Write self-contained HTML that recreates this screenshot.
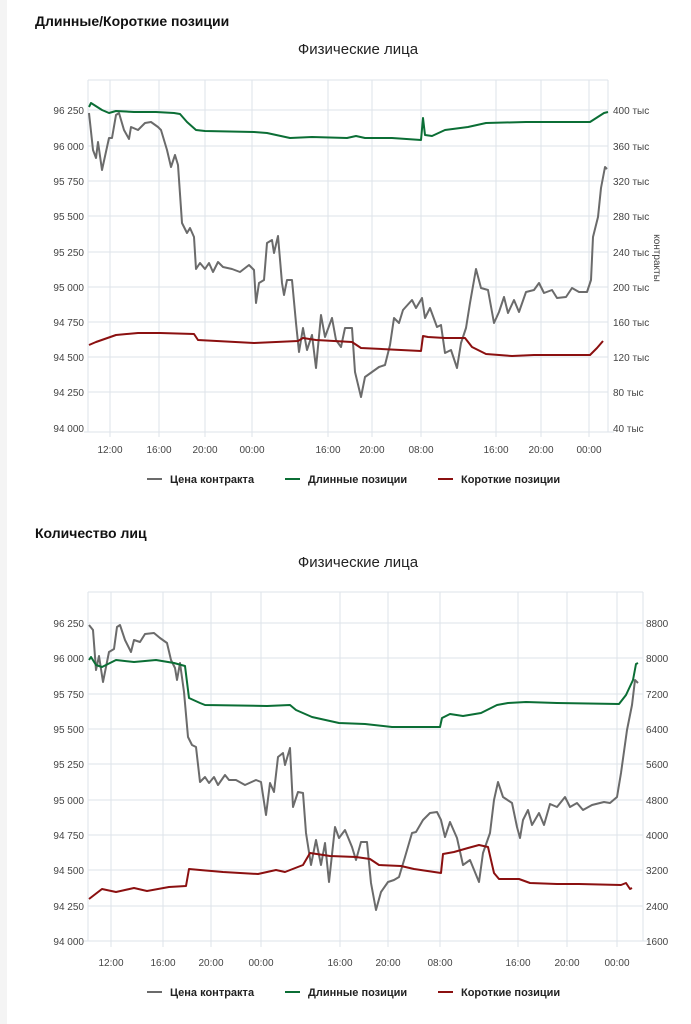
<!DOCTYPE html><html><head><meta charset="utf-8"><style>
body{margin:0;background:#fff;width:691px;height:1024px;overflow:hidden}
svg{display:block}
text{font-family:"Liberation Sans","DejaVu Sans",sans-serif}
</style></head><body>
<svg width="691" height="1024" viewBox="0 0 691 1024">
<rect x="0" y="0" width="7" height="1024" fill="#f4f4f4"/>
<text x="35" y="26" font-size="14" font-weight="bold" fill="#111">Длинные/Короткие позиции</text>
<text x="358" y="54" font-size="15" text-anchor="middle" fill="#222">Физические лица</text>
<g stroke="#dde3ea" stroke-width="1">
<line x1="88" y1="80" x2="608" y2="80"/>
<line x1="88" y1="110" x2="608" y2="110"/><line x1="88" y1="146" x2="608" y2="146"/><line x1="88" y1="181" x2="608" y2="181"/><line x1="88" y1="216" x2="608" y2="216"/><line x1="88" y1="252" x2="608" y2="252"/><line x1="88" y1="287" x2="608" y2="287"/><line x1="88" y1="322" x2="608" y2="322"/><line x1="88" y1="357" x2="608" y2="357"/><line x1="88" y1="392" x2="608" y2="392"/>
<line x1="110" y1="80" x2="110" y2="437"/><line x1="159" y1="80" x2="159" y2="437"/><line x1="205" y1="80" x2="205" y2="437"/><line x1="252" y1="80" x2="252" y2="437"/><line x1="328" y1="80" x2="328" y2="437"/><line x1="372" y1="80" x2="372" y2="437"/><line x1="421" y1="80" x2="421" y2="437"/><line x1="496" y1="80" x2="496" y2="437"/><line x1="541" y1="80" x2="541" y2="437"/><line x1="589" y1="80" x2="589" y2="437"/>
<line x1="88" y1="80" x2="88" y2="432"/><line x1="608" y1="80" x2="608" y2="432"/>
<line x1="84" y1="432" x2="614" y2="432"/>
</g>
<g font-size="10" fill="#444" text-anchor="end">
<text x="84" y="114">96 250</text><text x="84" y="150">96 000</text><text x="84" y="185">95 750</text><text x="84" y="220">95 500</text><text x="84" y="256">95 250</text><text x="84" y="291">95 000</text><text x="84" y="326">94 750</text><text x="84" y="361">94 500</text><text x="84" y="396">94 250</text><text x="84" y="432">94 000</text>
</g>
<g font-size="10" fill="#444">
<text x="613" y="114">400 тыс</text><text x="613" y="150">360 тыс</text><text x="613" y="185">320 тыс</text><text x="613" y="220">280 тыс</text><text x="613" y="256">240 тыс</text><text x="613" y="291">200 тыс</text><text x="613" y="326">160 тыс</text><text x="613" y="361">120 тыс</text><text x="613" y="396">80 тыс</text><text x="613" y="432">40 тыс</text>
</g>
<text transform="translate(654,258) rotate(90)" font-size="10" fill="#444" text-anchor="middle">контракты</text>
<g font-size="10" fill="#444" text-anchor="middle">
<text x="110" y="453">12:00</text><text x="159" y="453">16:00</text><text x="205" y="453">20:00</text><text x="252" y="453">00:00</text><text x="328" y="453">16:00</text><text x="372" y="453">20:00</text><text x="421" y="453">08:00</text><text x="496" y="453">16:00</text><text x="541" y="453">20:00</text><text x="589" y="453">00:00</text>
</g>
<g fill="none" stroke-width="2" stroke-linejoin="round">
<polyline stroke="#6b6b6b" points="89,113 93,150 96,158 98,142 102,170 109,138 112,138 116,115 119,113 124,130 129,139 131,127 138,130 145,123 151,122 158,127 161,130 167,150 171,167 175,155 178,165 182,223 187,233 190,228 194,237 196,269 200,263 205,269 209,263 213,272 218,262 223,267 232,269 240,272 249,265 254,270 256,303 259,283 264,280 267,243 272,240 274,253 278,236 282,283 284,295 287,280 292,280 296,323 299,352 303,328 307,350 312,335 316,368 321,315 325,337 332,318 336,340 341,347 345,328 352,328 355,372 361,397 365,377 372,372 379,367 385,365 390,345 394,318 399,323 403,310 412,300 416,308 422,298 425,318 430,308 437,327 441,325 445,353 451,350 457,368 461,343 466,328 470,303 476,269 481,288 488,290 494,323 499,312 504,297 508,313 514,300 519,312 526,292 534,290 539,283 544,293 552,290 557,298 566,297 572,288 579,292 587,292 591,280 593,237 598,217 601,188 605,167 607,169"/>
<polyline stroke="#0b6e35" points="89,107 91,103 102,110 109,113 116,111 134,112 156,112 174,113 180,114 187,122 196,130 205,131 254,132 267,133 290,138 312,137 347,138 356,136 365,138 392,138 421,140 423,118 425,135 432,136 445,130 468,127 486,123 526,122 590,122 604,113 608,112"/>
<polyline stroke="#8b1010" points="89,345 96,342 116,335 138,333 160,333 194,334 198,340 254,343 298,341 303,338 316,340 352,342 361,348 401,350 421,351 423,336 428,337 445,338 465,338 472,347 486,354 512,356 534,355 590,355 597,348 603,341"/>
</g>
<g font-size="11" font-weight="bold" fill="#222">
<line x1="147" y1="479" x2="162" y2="479" stroke="#6b6b6b" stroke-width="2"/><text x="170" y="483">Цена контракта</text>
<line x1="285" y1="479" x2="300" y2="479" stroke="#0b6e35" stroke-width="2"/><text x="308" y="483">Длинные позиции</text>
<line x1="438" y1="479" x2="453" y2="479" stroke="#8b1010" stroke-width="2"/><text x="461" y="483">Короткие позиции</text>
</g>

<text x="35" y="538" font-size="14" font-weight="bold" fill="#111">Количество лиц</text>
<text x="358" y="567" font-size="15" text-anchor="middle" fill="#222">Физические лица</text>
<g stroke="#dde3ea" stroke-width="1">
<line x1="88" y1="592" x2="643" y2="592"/>
<line x1="88" y1="623" x2="643" y2="623"/><line x1="88" y1="658" x2="643" y2="658"/><line x1="88" y1="694" x2="643" y2="694"/><line x1="88" y1="729" x2="643" y2="729"/><line x1="88" y1="764" x2="643" y2="764"/><line x1="88" y1="800" x2="643" y2="800"/><line x1="88" y1="835" x2="643" y2="835"/><line x1="88" y1="870" x2="643" y2="870"/><line x1="88" y1="906" x2="643" y2="906"/>
<line x1="111" y1="592" x2="111" y2="947"/><line x1="163" y1="592" x2="163" y2="947"/><line x1="211" y1="592" x2="211" y2="947"/><line x1="261" y1="592" x2="261" y2="947"/><line x1="340" y1="592" x2="340" y2="947"/><line x1="388" y1="592" x2="388" y2="947"/><line x1="440" y1="592" x2="440" y2="947"/><line x1="518" y1="592" x2="518" y2="947"/><line x1="567" y1="592" x2="567" y2="947"/><line x1="617" y1="592" x2="617" y2="947"/>
<line x1="88" y1="592" x2="88" y2="941"/><line x1="643" y1="592" x2="643" y2="941"/>
<line x1="84" y1="941" x2="649" y2="941"/>
</g>
<g font-size="10" fill="#444" text-anchor="end">
<text x="84" y="627">96 250</text><text x="84" y="662">96 000</text><text x="84" y="698">95 750</text><text x="84" y="733">95 500</text><text x="84" y="768">95 250</text><text x="84" y="804">95 000</text><text x="84" y="839">94 750</text><text x="84" y="874">94 500</text><text x="84" y="910">94 250</text><text x="84" y="945">94 000</text>
</g>
<g font-size="10" fill="#444">
<text x="646" y="627">8800</text><text x="646" y="662">8000</text><text x="646" y="698">7200</text><text x="646" y="733">6400</text><text x="646" y="768">5600</text><text x="646" y="804">4800</text><text x="646" y="839">4000</text><text x="646" y="874">3200</text><text x="646" y="910">2400</text><text x="646" y="945">1600</text>
</g>
<g font-size="10" fill="#444" text-anchor="middle">
<text x="111" y="966">12:00</text><text x="163" y="966">16:00</text><text x="211" y="966">20:00</text><text x="261" y="966">00:00</text><text x="340" y="966">16:00</text><text x="388" y="966">20:00</text><text x="440" y="966">08:00</text><text x="518" y="966">16:00</text><text x="567" y="966">20:00</text><text x="617" y="966">00:00</text>
</g>
<g fill="none" stroke-width="2" stroke-linejoin="round">
<polyline stroke="#6b6b6b" points="89,625 93,630 96,670 99,656 103,682 109,652 114,649 117,627 120,625 125,640 131,652 134,640 140,642 145,634 154,633 160,638 167,643 171,660 175,668 177,680 180,663 184,692 188,737 192,745 196,747 200,782 205,777 209,783 214,777 218,785 225,775 229,780 236,780 245,785 256,780 261,782 266,815 270,783 274,792 278,757 283,753 285,765 290,748 293,807 298,792 303,793 306,833 311,865 316,840 321,865 325,843 329,882 335,827 339,838 345,830 352,847 356,860 361,842 367,842 371,883 376,910 381,892 388,882 394,880 399,877 405,857 412,833 416,832 423,820 430,813 437,812 441,820 445,837 450,822 457,838 463,865 470,860 479,882 483,853 490,833 494,800 498,782 503,797 512,803 517,827 520,838 523,820 528,810 532,825 539,813 544,825 550,804 557,807 565,797 570,807 577,803 583,810 592,805 604,802 610,803 617,797 621,773 627,730 632,705 635,680 638,683"/>
<polyline stroke="#0b6e35" points="89,660 91,657 96,665 102,667 116,660 134,662 156,660 174,663 185,666 189,698 200,703 205,705 267,706 290,705 296,710 312,717 339,723 365,724 392,727 410,727 440,727 442,718 450,714 463,716 481,713 497,705 508,703 526,702 557,703 619,704 626,695 633,680 636,664 638,663"/>
<polyline stroke="#8b1010" points="89,899 102,889 116,892 134,888 147,891 169,887 186,886 189,869 200,870 223,872 258,874 276,870 285,872 303,865 310,853 330,856 356,857 370,859 379,865 401,866 414,869 441,873 443,854 454,852 468,848 479,845 488,847 494,873 499,879 519,879 530,883 557,884 579,884 621,885 626,883 630,889 632,888"/>
</g>
<g font-size="11" font-weight="bold" fill="#222">
<line x1="147" y1="992" x2="162" y2="992" stroke="#6b6b6b" stroke-width="2"/><text x="170" y="996">Цена контракта</text>
<line x1="285" y1="992" x2="300" y2="992" stroke="#0b6e35" stroke-width="2"/><text x="308" y="996">Длинные позиции</text>
<line x1="438" y1="992" x2="453" y2="992" stroke="#8b1010" stroke-width="2"/><text x="461" y="996">Короткие позиции</text>
</g>
</svg>
</body></html>
